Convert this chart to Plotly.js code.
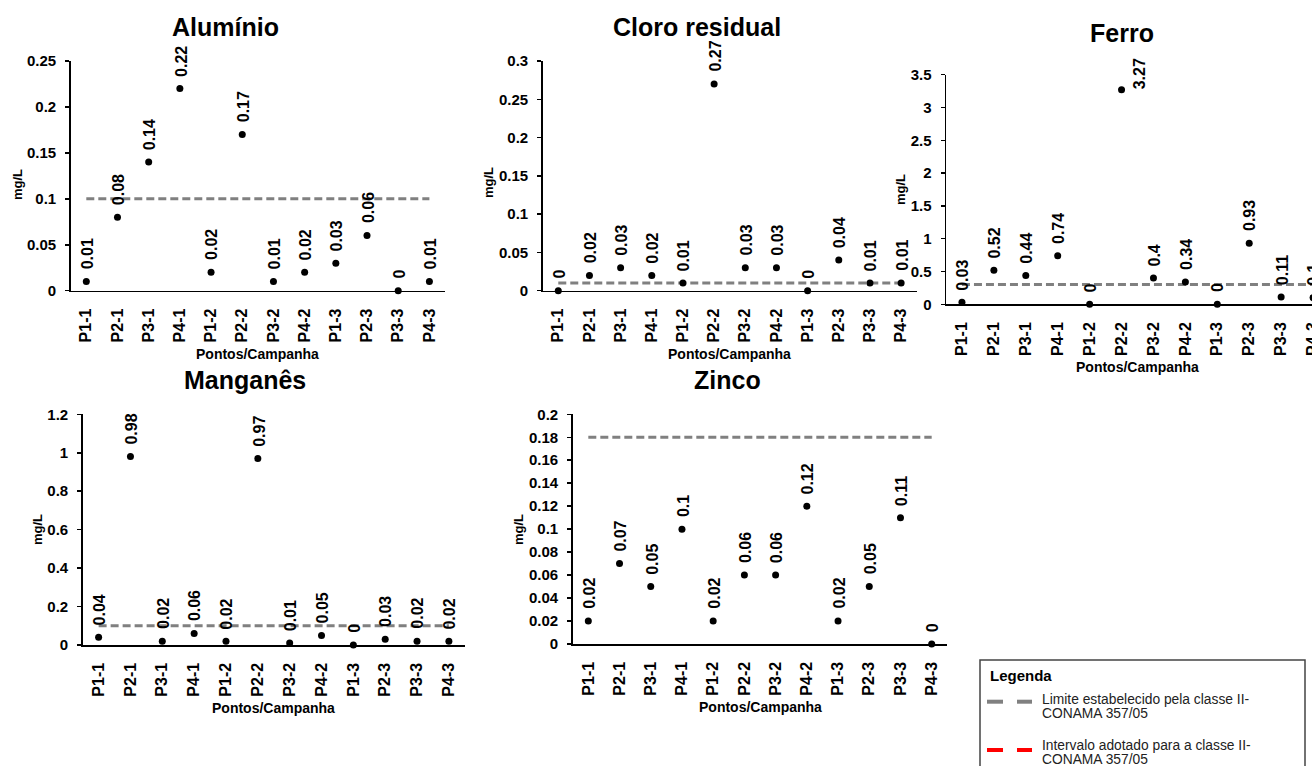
<!DOCTYPE html>
<html>
<head>
<meta charset="utf-8">
<script src="https://cdn.plot.ly/plotly-3.0.1.min.js"></script>
<style>
html,body{margin:0;padding:0;overflow:hidden;background:#fff;width:1312px;height:766px;}
#chart{width:1345px;height:766px;}
</style>
</head>
<body>
<div id="chart"></div>
<script>
// ---- data ----
const categories = ['P1-1','P2-1','P3-1','P4-1','P1-2','P2-2','P3-2','P4-2','P1-3','P2-3','P3-3','P4-3'];
const aluminio   = [0.01, 0.08, 0.14, 0.22, 0.02, 0.17, 0.01, 0.02, 0.03, 0.06, 0, 0.01];
const cloro      = [0, 0.02, 0.03, 0.02, 0.01, 0.27, 0.03, 0.03, 0, 0.04, 0.01, 0.01];
const ferro      = [0.03, 0.52, 0.44, 0.74, 0, 3.27, 0.4, 0.34, 0, 0.93, 0.11, 0.1];
const manganes   = [0.04, 0.98, 0.02, 0.06, 0.02, 0.97, 0.01, 0.05, 0, 0.03, 0.02, 0.02];
const zinco      = [0.02, 0.07, 0.05, 0.1, 0.02, 0.06, 0.06, 0.12, 0.02, 0.05, 0.11, 0];
const limiteAl = 0.1, limiteCl = 0.01, limiteFe = 0.3, limiteMn = 0.1, limiteZn = 0.18;
const titles = ['Alumínio','Cloro residual','Ferro','Manganês','Zinco'];
const yTitle = 'mg/L';
const xTitle = 'Pontos/Campanha';
const legendTitle = 'Legenda';
const legendItem1 = ['Limite estabelecido pela classe II-','CONAMA 357/05'];
const legendItem2 = ['Intervalo adotado para a classe II-','CONAMA 357/05'];

// ---- layout geometry (pixels) ----
const W = 1345, H = 766;
const FONT = 'Liberation Sans, Arial, sans-serif';
const panels = [
  {vals: aluminio, lim: limiteAl, x0: 70.7, x1: 445,   y0: 61,    y1: 290.7, range:[0,0.25], dtick:0.05, tx:225,  ty:27,  ytx:17,  yty:185},
  {vals: cloro,    lim: limiteCl, x0: 542.7,x1: 916.7, y0: 61,    y1: 290.7, range:[0,0.3],  dtick:0.05, tx:697,  ty:27,  ytx:488, yty:183},
  {vals: ferro,    lim: limiteFe, x0: 946,  x1: 1329,  y0: 74.7,  y1: 304.3, range:[0,3.5],  dtick:0.5,  tx:1122, ty:33,  ytx:900, yty:190},
  {vals: manganes, lim: limiteMn, x0: 82.7, x1: 464.8, y0: 414.3, y1: 645,   range:[0,1.2],  dtick:0.2,  tx:245,  ty:380, ytx:37,  yty:530},
  {vals: zinco,    lim: limiteZn, x0: 572.7,x1: 947.3, y0: 414.3, y1: 644,   range:[0,0.2],  dtick:0.02, tx:727,  ty:380, ytx:518, yty:530}
];
// label placed to the right of the point instead of above (panel index, category index)
const sideLabels = [[2,5]];

const data = [];
const layout = {
  width: W, height: H,
  margin: {l:0, r:0, t:0, b:0},
  paper_bgcolor: '#fff', plot_bgcolor: 'rgba(0,0,0,0)',
  showlegend: false,
  font: {family: FONT, color: '#000'},
  annotations: [],
  shapes: []
};

panels.forEach((p, i) => {
  const n = i === 0 ? '' : String(i + 1);
  const xa = 'x' + n, ya = 'y' + n;
  layout['xaxis' + n] = {
    type: 'category',
    domain: [p.x0 / W, p.x1 / W],
    anchor: ya,
    range: [-0.5, 11.5],
    showline: true, linecolor: '#000', linewidth: 1.5,
    showgrid: false, zeroline: false,
    ticks: '', tickangle: -90,
    ticklabelstandoff: 10,
    tickfont: {family: FONT, size: 16, weight: 700, color: '#000'},
    fixedrange: true
  };
  layout['yaxis' + n] = {
    domain: [1 - p.y1 / H, 1 - p.y0 / H],
    anchor: xa,
    range: p.range, dtick: p.dtick, tick0: 0,
    showline: true, linecolor: '#000', linewidth: 1.5,
    showgrid: false, zeroline: false,
    ticks: 'outside', ticklen: 4, tickwidth: 1.5, tickcolor: '#000',
    ticklabelstandoff: 6,
    tickfont: {family: FONT, size: 15, weight: 700, color: '#000'},
    fixedrange: true
  };
  // limit line
  data.push({
    type: 'scatter', mode: 'lines', xaxis: xa, yaxis: ya,
    x: categories, y: categories.map(() => p.lim),
    line: {color: '#808080', width: 3, dash: '8px,4px'},
    hoverinfo: 'skip'
  });
  // points
  data.push({
    type: 'scatter', mode: 'markers', xaxis: xa, yaxis: ya,
    x: categories, y: p.vals, cliponaxis: false,
    marker: {color: '#000', size: 7}
  });
  // data labels
  p.vals.forEach((v, k) => {
    const side = sideLabels.some(s => s[0] === i && s[1] === k);
    layout.annotations.push({
      xref: xa, yref: ya, x: categories[k], y: v,
      text: String(v), showarrow: false, textangle: -90,
      xanchor: side ? 'left' : 'center', yanchor: 'bottom',
      xshift: side ? 7 : 1, yshift: side ? -2 : 10,
      font: {family: FONT, size: 16, weight: 700, color: '#000'}
    });
  });
  // chart title
  layout.annotations.push({
    xref: 'paper', yref: 'paper', x: p.tx / W, y: 1 - p.ty / H,
    xanchor: 'center', yanchor: 'middle', showarrow: false,
    text: titles[i], font: {family: FONT, size: 25, weight: 700, color: '#000'}
  });
  // y title
  layout.annotations.push({
    xref: 'paper', yref: 'paper', x: p.ytx / W, y: 1 - p.yty / H,
    xanchor: 'center', yanchor: 'middle', showarrow: false, textangle: -90,
    text: yTitle, font: {family: FONT, size: 13, weight: 700, color: '#000'}
  });
  // x title
  layout.annotations.push({
    xref: 'paper', yref: 'paper', x: ((p.x0 + p.x1) / 2) / W, y: 1 - (p.y1 + 63) / H,
    xanchor: 'center', yanchor: 'middle', showarrow: false,
    text: xTitle, font: {family: FONT, size: 14, weight: 700, color: '#000'}
  });
});

// ---- legend box ----
const px = v => v / W, py = v => 1 - v / H;
layout.shapes.push({type:'rect', xref:'paper', yref:'paper', x0:px(980), x1:px(1305), y0:py(660), y1:py(790),
  line:{color:'#444', width:1.5}, fillcolor:'rgba(0,0,0,0)'});
[[701.7,'#808080'],[750,'#ff0000']].forEach(([yy,c]) => {
  [[987,1003],[1017,1032]].forEach(([a,b]) => {
    layout.shapes.push({type:'line', xref:'paper', yref:'paper', x0:px(a), x1:px(b), y0:py(yy), y1:py(yy),
      line:{color:c, width:4}});
  });
});
layout.annotations.push({xref:'paper', yref:'paper', x:px(988), y:py(675), xanchor:'left', yanchor:'middle',
  showarrow:false, text:legendTitle, font:{family:FONT, size:15, weight:700, color:'#000'}});
[[699.5,'l1'],[745.5,'l2']].forEach(([yy], idx) => {
  const lines = idx === 0 ? legendItem1 : legendItem2;
  lines.forEach((t, j) => {
    layout.annotations.push({xref:'paper', yref:'paper', x:px(1040), y:py(yy + j*14), xanchor:'left', yanchor:'middle',
      showarrow:false, text:t, font:{family:FONT, size:13.8, color:'#222'}});
  });
});

Plotly.newPlot('chart', data, layout, {staticPlot: true, displayModeBar: false});
</script>
</body>
</html>
